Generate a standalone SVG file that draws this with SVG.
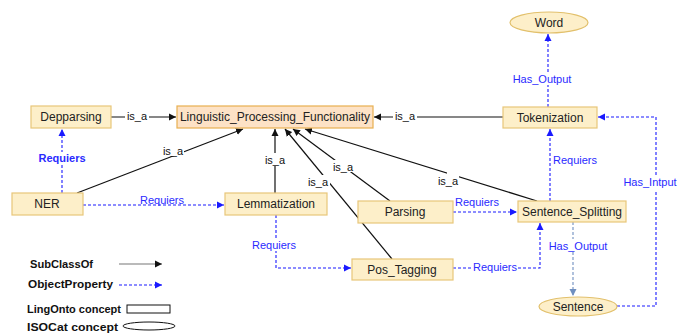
<svg xmlns="http://www.w3.org/2000/svg" width="682" height="333" viewBox="0 0 682 333">
<defs>
<style>
text{font-family:"Comic Sans MS","Liberation Sans","DejaVu Sans",sans-serif;}
.n rect{fill:#fdefc9;stroke:#e8c67a;stroke-width:1.2;}
.n ellipse{fill:#fdefc9;stroke:#e2c06c;stroke-width:1.2;}
#lpf rect{fill:#fde2c6;stroke:#e8b050;}
.n text{font-size:12px;fill:#222;text-anchor:middle;}
.isa{stroke:#111;stroke-width:1.2;fill:none;}
.op{stroke:#1a1aff;stroke-width:1.1;stroke-dasharray:3,2;fill:none;}
.op2{stroke:#6f8fc0;stroke-width:1.1;stroke-dasharray:3,2;fill:none;}
.lb{font-size:11px;fill:#111;text-anchor:middle;}
.lo{font-size:11px;fill:#2a2aff;text-anchor:middle;}
.bg{fill:#fff;}
.leg{font-size:11px;font-weight:bold;fill:#111;}
</style>
<marker id="ab" markerWidth="8" markerHeight="8" refX="7" refY="4" orient="auto" markerUnits="userSpaceOnUse">
<path d="M0,0.5 L7,4 L0,7.5 Z" fill="#111"/>
</marker>
<marker id="ao" markerWidth="8" markerHeight="8" refX="7" refY="4" orient="auto" markerUnits="userSpaceOnUse">
<path d="M0,0.5 L7,4 L0,7.5 Z" fill="#1a1aff"/>
</marker>
<marker id="ao2" markerWidth="8" markerHeight="8" refX="7" refY="4" orient="auto" markerUnits="userSpaceOnUse">
<path d="M0,0.5 L7,4 L0,7.5 Z" fill="#6f8fc0"/>
</marker>
</defs>
<rect width="682" height="333" fill="#fff"/>

<g id="connectors">
<line class="isa" x1="111" y1="117" x2="176" y2="117" marker-end="url(#ab)"/>
<rect class="bg" x="125" y="110" width="24" height="13"/>
<text class="lb" x="137" y="120">is_a</text>

<line class="isa" x1="503" y1="117" x2="374" y2="117" marker-end="url(#ab)"/>
<rect class="bg" x="393" y="110" width="24" height="13"/>
<text class="lb" x="405" y="120">is_a</text>

<line class="isa" x1="77" y1="193" x2="243" y2="129" marker-end="url(#ab)"/>
<rect class="bg" x="162" y="144" width="22" height="12"/>
<text class="lb" x="173" y="155">is_a</text>

<line class="isa" x1="275" y1="193" x2="275" y2="129" marker-end="url(#ab)"/>
<rect class="bg" x="263" y="153" width="24" height="13"/>
<text class="lb" x="275" y="164">is_a</text>

<line class="isa" x1="390" y1="201" x2="293" y2="129" marker-end="url(#ab)"/>
<rect class="bg" x="331" y="160" width="24" height="12"/>
<text class="lb" x="343" y="171">is_a</text>

<line class="isa" x1="392" y1="259" x2="285" y2="129" marker-end="url(#ab)"/>
<rect class="bg" x="306" y="175" width="24" height="12"/>
<text class="lb" x="318" y="186">is_a</text>

<line class="isa" x1="537" y1="201" x2="305" y2="129" marker-end="url(#ab)"/>
<rect class="bg" x="447" y="170" width="12" height="8"/>
<text class="lb" x="448" y="185">is_a</text>

<line class="op" x1="62" y1="193" x2="62" y2="129" marker-end="url(#ao)"/>
<rect class="bg" x="38" y="152" width="48" height="12"/>
<text class="lo" x="62" y="162" font-weight="bold">Requiers</text>

<line class="op" x1="83" y1="205" x2="224" y2="205" marker-end="url(#ao)"/>
<text class="lo" x="162" y="204">Requiers</text>

<path class="op" d="M276,215 V268 H351" marker-end="url(#ao)"/>
<rect class="bg" x="250" y="238" width="48" height="13"/>
<text class="lo" x="274" y="249">Requiers</text>

<line class="op" x1="453" y1="212" x2="517" y2="212" marker-end="url(#ao)"/>
<text class="lo" x="477" y="206">Requiers</text>

<path class="op" d="M453,268 H540 V223" marker-end="url(#ao)"/>
<rect class="bg" x="472" y="261" width="46" height="12"/>
<text class="lo" x="495" y="271">Requiers</text>

<line class="op" x1="550" y1="201" x2="550" y2="129" marker-end="url(#ao)"/>
<text class="lo" x="575" y="164">Requiers</text>

<line class="op" x1="548" y1="107" x2="548" y2="34" marker-end="url(#ao)"/>
<rect class="bg" x="512" y="72" width="60" height="13"/>
<text class="lo" x="542" y="83">Has_Output</text>

<line class="op2" x1="573" y1="222" x2="573" y2="296" marker-end="url(#ao2)"/>
<rect class="bg" x="547" y="239" width="62" height="13"/>
<text class="lo" x="578" y="250">Has_Output</text>

<path class="op" d="M617,306 H656 V117 H598" marker-end="url(#ao)"/>
<rect class="bg" x="620" y="177" width="62" height="13"/>
<text class="lo" x="650" y="186">Has_Intput</text>
</g>

<g id="lpf" class="n"><rect x="177" y="106" width="196" height="22"/><text x="275" y="121">Linguistic_Processing_Functionality</text></g>
<g id="depparsing" class="n"><rect x="31" y="106" width="80" height="22"/><text x="71" y="121">Depparsing</text></g>
<g id="tokenization" class="n"><rect x="503" y="107" width="94" height="21"/><text x="550" y="122">Tokenization</text></g>
<g id="word" class="n"><ellipse cx="549" cy="22.5" rx="39" ry="10.5"/><text x="549" y="27">Word</text></g>
<g id="ner" class="n"><rect x="12" y="193" width="71" height="22"/><text x="47" y="208">NER</text></g>
<g id="lemmatization" class="n"><rect x="225" y="193" width="102" height="22"/><text x="276" y="208">Lemmatization</text></g>
<g id="parsing" class="n"><rect x="358" y="201" width="95" height="22"/><text x="405" y="216">Parsing</text></g>
<g id="sentence_splitting" class="n"><rect x="518" y="201" width="108" height="21"/><text x="572" y="216">Sentence_Splitting</text></g>
<g id="pos_tagging" class="n"><rect x="352" y="259" width="101" height="21"/><text x="402" y="274">Pos_Tagging</text></g>
<g id="sentence" class="n"><ellipse cx="578" cy="306.5" rx="39" ry="9.5"/><text x="578" y="311">Sentence</text></g>

<g id="legend">
<text class="leg" x="30" y="268" textLength="63" lengthAdjust="spacingAndGlyphs">SubClassOf</text>
<line x1="119" y1="264" x2="162" y2="264" stroke="#777" stroke-width="1.2" marker-end="url(#ab)"/>
<text class="leg" x="28" y="288" textLength="85" lengthAdjust="spacingAndGlyphs">ObjectProperty</text>
<line class="op" x1="119" y1="285" x2="162" y2="285" marker-end="url(#ao)"/>
<text class="leg" x="27" y="313" textLength="94" lengthAdjust="spacingAndGlyphs">LingOnto concept</text>
<rect x="127" y="305" width="43" height="8" fill="#fff" stroke="#111" stroke-width="1"/>
<text class="leg" x="27" y="331" textLength="91" lengthAdjust="spacingAndGlyphs">ISOCat concept</text>
<ellipse cx="149" cy="326" rx="26" ry="4" fill="#fff" stroke="#111" stroke-width="1"/>
</g>
</svg>
